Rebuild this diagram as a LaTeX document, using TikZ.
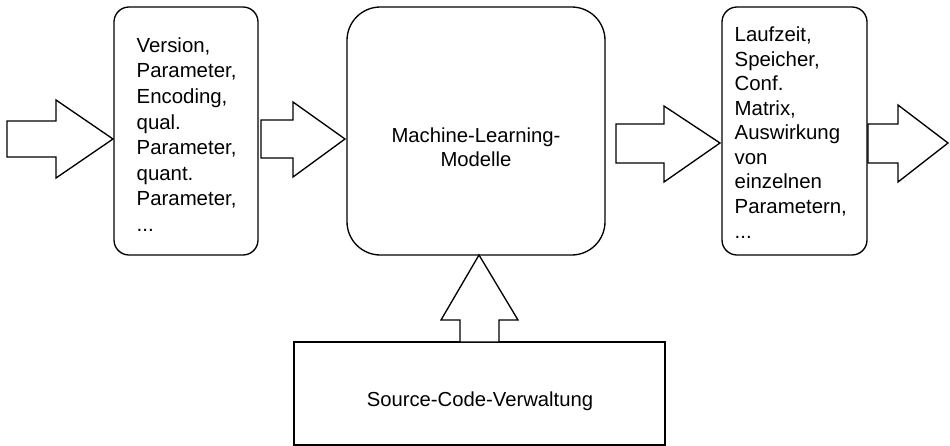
\documentclass[tikz,border=0pt]{standalone}
\usepackage{fontspec}
\setmainfont{Liberation Sans}
\begin{document}
\begin{tikzpicture}[x=0.75pt,y=-0.75pt,line width=1pt,
  font=\fontsize{15.2}{18}\selectfont,
  smallbox/.style={draw,rounded corners=11.25pt,inner sep=0pt},
  bigbox/.style={draw,rounded corners=25pt,inner sep=0pt},
  plainbox/.style={draw,inner sep=0pt},
  txt/.style={align=left,inner sep=0pt,anchor=west},
  blockarrow/.style={draw,line join=miter,fill=white}]
\useasboundingbox (0,0) rectangle (950,446);

% boxes
\node[smallbox,minimum width=108pt,minimum height=186pt] (params) at (186,131) {};
\node[bigbox,minimum width=193.5pt,minimum height=186pt] (ml) at (476,131) {};
\node[smallbox,minimum width=108.75pt,minimum height=186pt] (results) at (794.5,131) {};
\node[plainbox,minimum width=278.25pt,minimum height=77.25pt] (scm) at (479.5,393.5) {};

% texts
\node[txt,font=\fontsize{15.3}{19.2}\selectfont] (paramstext) at (136,134.5) {Version,\\Parameter,\\Encoding,\\qual.\\Parameter,\\quant.\\Parameter,\\...};
\node[txt,font=\fontsize{15.3}{18.4}\selectfont] (resultstext) at (734,132.5) {Laufzeit,\\Speicher,\\Conf.\\Matrix,\\Auswirkung\\von\\einzelnen\\Parametern,\\...};
\node[align=center,inner sep=0pt] (mltext) at (476,147) {Machine-Learning-\\Modelle};
\node[inner sep=0pt] (scmtext) at (480,401) {Source-Code-Verwaltung};

% block arrows
\draw[blockarrow] (7,121) -- (56,121) -- (56,100) -- (113,139) -- (56,178) -- (56,157) -- (7,157) -- cycle;
\draw[blockarrow] (261,120) -- (293,120) -- (293,102) -- (345,139) -- (293,177) -- (293,158) -- (261,158) -- cycle;
\draw[blockarrow] (616,124) -- (664,124) -- (664,106) -- (720,143) -- (664,182) -- (664,163) -- (616,163) -- cycle;
\draw[blockarrow] (868,124) -- (898,124) -- (898,105) -- (948,143) -- (898,182) -- (898,163) -- (868,163) -- cycle;
\draw[blockarrow] (460,342) -- (460,320) -- (441,320) -- (479,255) -- (518,320) -- (499,320) -- (499,342) -- cycle;
\end{tikzpicture}
\end{document}
